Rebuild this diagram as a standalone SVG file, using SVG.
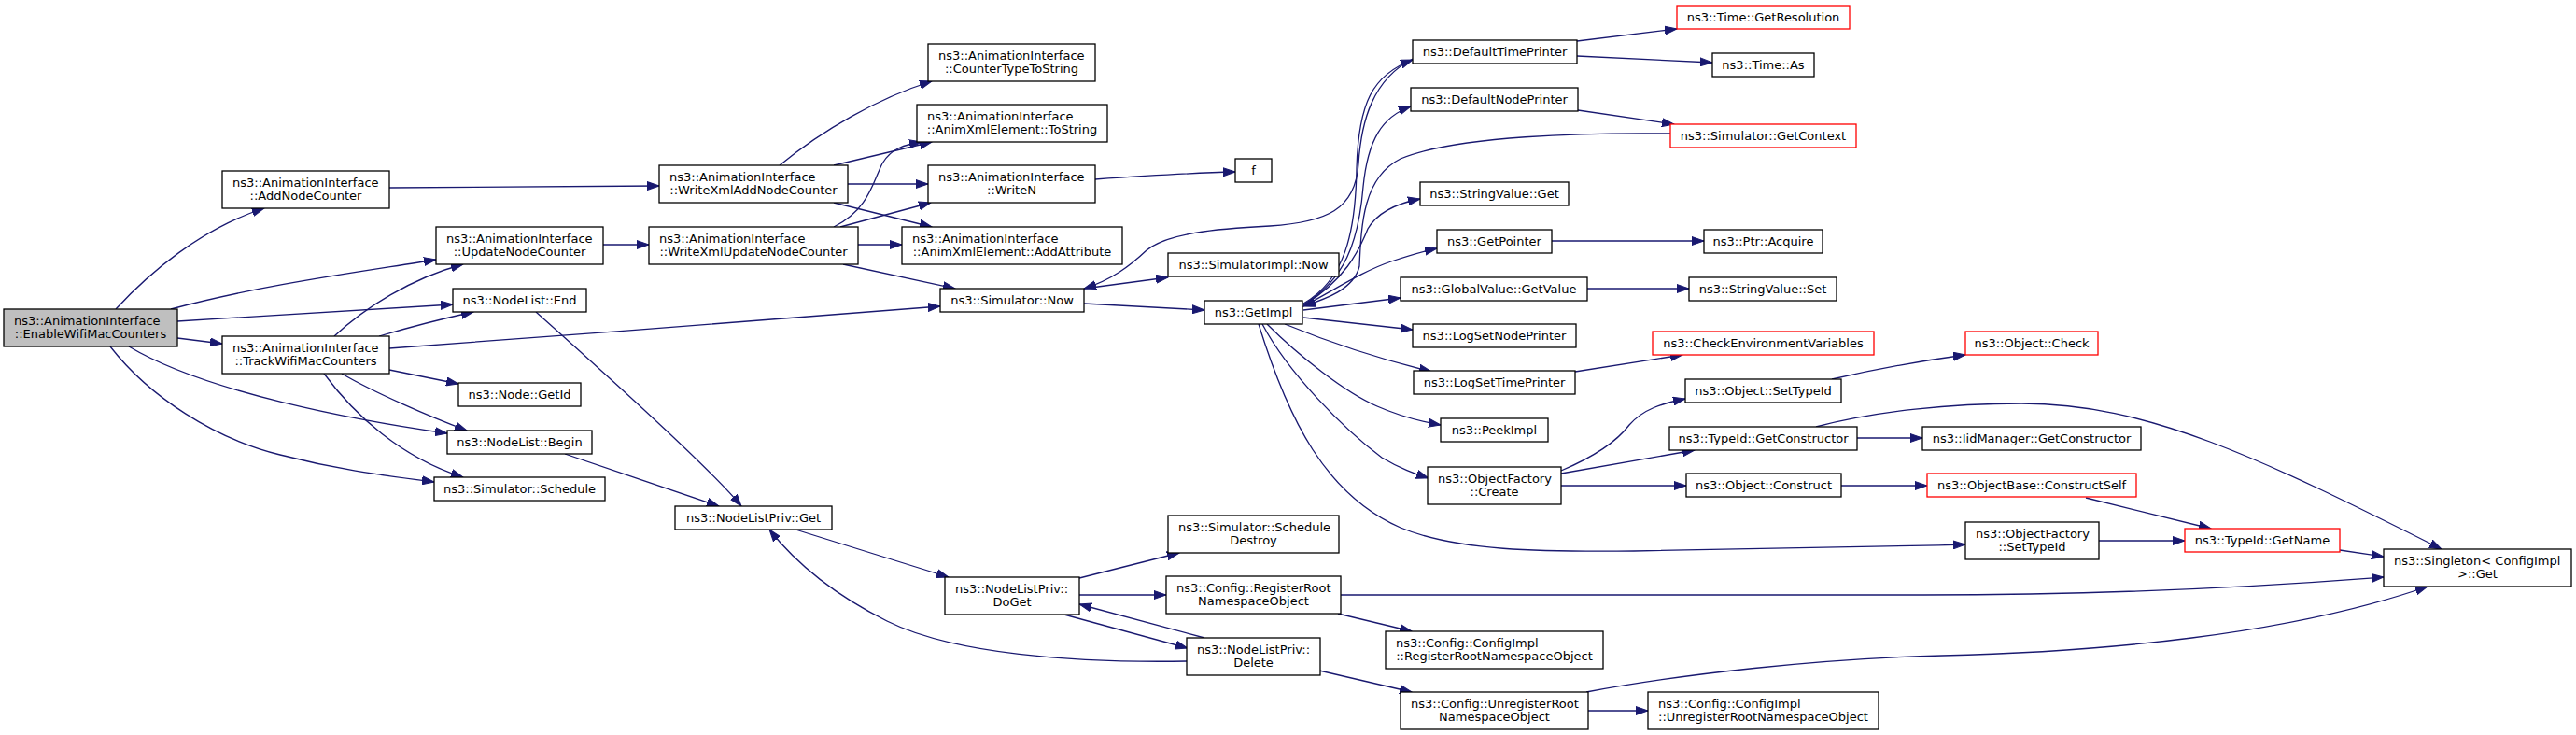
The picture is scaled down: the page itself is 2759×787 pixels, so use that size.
<svg xmlns="http://www.w3.org/2000/svg" width="2759" height="787" viewBox="0 0 2759 787">
<style>
.n rect{fill:#fff;stroke:#000;stroke-width:1.3}
.n.r rect{stroke:#f00}
.n.root rect{fill:#bfbfbf}
text{font-family:"DejaVu Sans","Liberation Sans",sans-serif;font-size:13px;fill:#000}
.c{text-anchor:middle}
.e path{fill:none;stroke:#191970;stroke-width:1.3;marker-end:url(#ah)}
</style>
<defs>
<marker id="ah" markerWidth="14" markerHeight="10" refX="13" refY="5" orient="auto" markerUnits="userSpaceOnUse">
<path d="M0,0.5 L13,5 L0,9.5 z" fill="#191970" stroke="#191970" stroke-width="1"/>
</marker>
</defs>
<rect width="2759" height="787" fill="#fff"/>
<g id="edges" class="e">
<path d="M124,331 C160,292 215,245 283,223"/>
<path d="M183,331 C280,305 380,292 467,278"/>
<path d="M190,344 C300,337 400,331 485,326"/>
<path d="M190,362 L238,368"/>
<path d="M138,371 C220,420 380,450 479,464"/>
<path d="M118,371 C160,425 230,470 300,487 C370,505 420,510 465,516"/>
<path d="M417,201 L706,199"/>
<path d="M646,262 L695,262"/>
<path d="M358,360 C390,330 440,298 496,283"/>
<path d="M406,360 C440,350 475,341 507,334"/>
<path d="M417,373 C600,360 850,340 1007,328"/>
<path d="M417,396 L491,411"/>
<path d="M366,400 C400,420 460,446 500,461"/>
<path d="M347,400 C380,445 430,490 496,511"/>
<path d="M574,334 C620,375 760,500 794,542"/>
<path d="M605,486 L770,542"/>
<path d="M835,177 C880,140 940,105 998,87"/>
<path d="M893,177 L998,152"/>
<path d="M908,197 L994,197"/>
<path d="M893,217 L998,243"/>
<path d="M893,243 C930,225 935,195 945,175 C955,158 970,155 987,152"/>
<path d="M900,243 L997,217"/>
<path d="M919,262 L966,262"/>
<path d="M903,283 L1023,309"/>
<path d="M1173,192 C1230,188 1280,185 1323,184"/>
<path d="M1161,309 L1251,297"/>
<path d="M1161,325 L1290,332"/>
<path d="M1513,63 C1470,85 1458,130 1455,175 C1452,225 1420,238 1360,242 C1300,245 1250,250 1228,268 C1210,285 1190,300 1161,309"/>
<path d="M1396,325 C1440,300 1452,250 1453,180 C1455,110 1470,80 1513,64"/>
<path d="M1396,326 C1440,300 1455,260 1460,200 C1465,150 1480,125 1511,114"/>
<path d="M1396,327 C1440,300 1455,270 1465,245 C1475,228 1495,218 1521,213"/>
<path d="M1396,328 C1430,310 1460,290 1490,280 C1505,275 1520,270 1539,266"/>
<path d="M1396,332 L1500,319"/>
<path d="M1396,340 L1513,353"/>
<path d="M1376,347 C1420,365 1480,385 1533,398"/>
<path d="M1357,347 C1390,380 1440,420 1475,435 C1500,446 1520,451 1543,455"/>
<path d="M1352,347 C1380,400 1440,460 1480,490 C1500,502 1515,507 1530,512"/>
<path d="M1348,347 C1380,450 1420,530 1500,565 C1560,590 1650,591 1750,590 C1900,588 2000,586 2105,583"/>
<path d="M1789,143 C1700,142 1560,145 1500,170 C1460,190 1458,240 1456,285 C1450,310 1420,320 1396,328"/>
<path d="M1689,44 L1796,31"/>
<path d="M1689,60 L1834,67"/>
<path d="M1690,118 L1793,133"/>
<path d="M1662,258 L1825,258"/>
<path d="M1700,309 L1809,309"/>
<path d="M1687,398 L1802,380"/>
<path d="M1962,406 C2010,395 2060,386 2105,380"/>
<path d="M1672,504 C1705,490 1730,475 1745,455 C1760,438 1780,432 1805,427"/>
<path d="M1672,507 L1815,482"/>
<path d="M1672,520 L1806,520"/>
<path d="M1989,469 L2059,469"/>
<path d="M1972,520 L2064,520"/>
<path d="M1945,457 C2010,440 2090,432 2165,432 C2300,432 2420,490 2615,588"/>
<path d="M2234,533 L2368,566"/>
<path d="M2248,579 L2340,579"/>
<path d="M2506,589 L2553,596"/>
<path d="M1436,637 L2060,637 C2250,637 2400,630 2553,618"/>
<path d="M1699,741 C1800,722 1950,705 2080,702 C2250,698 2450,680 2600,628"/>
<path d="M1701,761 L1765,761"/>
<path d="M1433,657 L1512,676"/>
<path d="M1413,718 L1512,741"/>
<path d="M852,567 L1016,618"/>
<path d="M1156,619 L1263,592"/>
<path d="M1156,637 L1249,637"/>
<path d="M1136,657 L1272,694"/>
<path d="M1290,683 L1156,647"/>
<path d="M1271,708 C1150,710 1020,700 950,665 C890,635 850,600 824,567"/>
</g>
<g id="n_enable" class="n root"><rect x="4" y="331" width="186" height="40"/><text x="15" y="347.5">ns3::AnimationInterface</text><text class="c" x="97" y="361.5">::EnableWifiMacCounters</text></g>
<g id="n_addnodecounter" class="n"><rect x="238" y="183" width="179" height="40"/><text x="249" y="199.5">ns3::AnimationInterface</text><text class="c" x="327.5" y="213.5">::AddNodeCounter</text></g>
<g id="n_updatenodecounter" class="n"><rect x="467" y="243" width="179" height="40"/><text x="478" y="259.5">ns3::AnimationInterface</text><text class="c" x="556.5" y="273.5">::UpdateNodeCounter</text></g>
<g id="n_nodelist_end" class="n"><rect x="485" y="309" width="143" height="25"/><text class="c" x="556.5" y="326">ns3::NodeList::End</text></g>
<g id="n_trackwifi" class="n"><rect x="238" y="360" width="179" height="40"/><text x="249" y="376.5">ns3::AnimationInterface</text><text class="c" x="327.5" y="390.5">::TrackWifiMacCounters</text></g>
<g id="n_node_getid" class="n"><rect x="491" y="410" width="131" height="25"/><text class="c" x="556.5" y="427">ns3::Node::GetId</text></g>
<g id="n_nodelist_begin" class="n"><rect x="479" y="461" width="155" height="25"/><text class="c" x="556.5" y="478">ns3::NodeList::Begin</text></g>
<g id="n_sim_schedule" class="n"><rect x="465" y="511" width="183" height="25"/><text class="c" x="556.5" y="528">ns3::Simulator::Schedule</text></g>
<g id="n_writexmladd" class="n"><rect x="706" y="177" width="202" height="40"/><text x="717" y="193.5">ns3::AnimationInterface</text><text class="c" x="807" y="207.5">::WriteXmlAddNodeCounter</text></g>
<g id="n_writexmlupdate" class="n"><rect x="695" y="243" width="224" height="40"/><text x="706" y="259.5">ns3::AnimationInterface</text><text class="c" x="807" y="273.5">::WriteXmlUpdateNodeCounter</text></g>
<g id="n_countertype" class="n"><rect x="994" y="47" width="179" height="40"/><text x="1005" y="63.5">ns3::AnimationInterface</text><text class="c" x="1083.5" y="77.5">::CounterTypeToString</text></g>
<g id="n_tostring" class="n"><rect x="982" y="112" width="204" height="40"/><text x="993" y="128.5">ns3::AnimationInterface</text><text class="c" x="1084" y="142.5">::AnimXmlElement::ToString</text></g>
<g id="n_writen" class="n"><rect x="994" y="177" width="179" height="40"/><text x="1005" y="193.5">ns3::AnimationInterface</text><text class="c" x="1083.5" y="207.5">::WriteN</text></g>
<g id="n_addattribute" class="n"><rect x="966" y="243" width="236" height="40"/><text x="977" y="259.5">ns3::AnimationInterface</text><text class="c" x="1084" y="273.5">::AnimXmlElement::AddAttribute</text></g>
<g id="n_f" class="n"><rect x="1323" y="170" width="39" height="25"/><text class="c" x="1342.5" y="187">f</text></g>
<g id="n_sim_now" class="n"><rect x="1007" y="309" width="154" height="25"/><text class="c" x="1084" y="326">ns3::Simulator::Now</text></g>
<g id="n_simimpl_now" class="n"><rect x="1251" y="271" width="183" height="25"/><text class="c" x="1342.5" y="288">ns3::SimulatorImpl::Now</text></g>
<g id="n_getimpl" class="n"><rect x="1290" y="322" width="105" height="25"/><text class="c" x="1342.5" y="339">ns3::GetImpl</text></g>
<g id="n_nlp_get" class="n"><rect x="723" y="542" width="168" height="25"/><text class="c" x="807" y="559">ns3::NodeListPriv::Get</text></g>
<g id="n_nlp_doget" class="n"><rect x="1012" y="618" width="144" height="40"/><text x="1023" y="634.5">ns3::NodeListPriv::</text><text class="c" x="1084" y="648.5">DoGet</text></g>
<g id="n_scheduledestroy" class="n"><rect x="1251" y="552" width="183" height="40"/><text x="1262" y="568.5">ns3::Simulator::Schedule</text><text class="c" x="1342.5" y="582.5">Destroy</text></g>
<g id="n_cfg_register" class="n"><rect x="1249" y="617" width="187" height="40"/><text x="1260" y="633.5">ns3::Config::RegisterRoot</text><text class="c" x="1342.5" y="647.5">NamespaceObject</text></g>
<g id="n_nlp_delete" class="n"><rect x="1271" y="683" width="143" height="40"/><text x="1282" y="699.5">ns3::NodeListPriv::</text><text class="c" x="1342.5" y="713.5">Delete</text></g>
<g id="n_deftimeprinter" class="n"><rect x="1513" y="43" width="176" height="25"/><text class="c" x="1601" y="60">ns3::DefaultTimePrinter</text></g>
<g id="n_defnodeprinter" class="n"><rect x="1511" y="94" width="179" height="25"/><text class="c" x="1600.5" y="111">ns3::DefaultNodePrinter</text></g>
<g id="n_sv_get" class="n"><rect x="1521" y="195" width="159" height="25"/><text class="c" x="1600.5" y="212">ns3::StringValue::Get</text></g>
<g id="n_getpointer" class="n"><rect x="1539" y="246" width="123" height="25"/><text class="c" x="1600.5" y="263">ns3::GetPointer</text></g>
<g id="n_gv_getvalue" class="n"><rect x="1500" y="297" width="200" height="25"/><text class="c" x="1600" y="314">ns3::GlobalValue::GetValue</text></g>
<g id="n_logsetnode" class="n"><rect x="1513" y="347" width="175" height="25"/><text class="c" x="1600.5" y="364">ns3::LogSetNodePrinter</text></g>
<g id="n_logsettime" class="n"><rect x="1514" y="397" width="173" height="25"/><text class="c" x="1600.5" y="414">ns3::LogSetTimePrinter</text></g>
<g id="n_peekimpl" class="n"><rect x="1543" y="448" width="115" height="25"/><text class="c" x="1600.5" y="465">ns3::PeekImpl</text></g>
<g id="n_of_create" class="n"><rect x="1529" y="500" width="143" height="40"/><text x="1540" y="516.5">ns3::ObjectFactory</text><text class="c" x="1600.5" y="530.5">::Create</text></g>
<g id="n_cfgimpl_register" class="n"><rect x="1484" y="676" width="233" height="40"/><text x="1495" y="692.5">ns3::Config::ConfigImpl</text><text class="c" x="1600.5" y="706.5">::RegisterRootNamespaceObject</text></g>
<g id="n_cfg_unregister" class="n"><rect x="1500" y="741" width="201" height="40"/><text x="1511" y="757.5">ns3::Config::UnregisterRoot</text><text class="c" x="1600.5" y="771.5">NamespaceObject</text></g>
<g id="n_getresolution" class="n r"><rect x="1796" y="6" width="185" height="25"/><text class="c" x="1888.5" y="23">ns3::Time::GetResolution</text></g>
<g id="n_time_as" class="n"><rect x="1834" y="57" width="109" height="25"/><text class="c" x="1888.5" y="74">ns3::Time::As</text></g>
<g id="n_getcontext" class="n r"><rect x="1789" y="133" width="199" height="25"/><text class="c" x="1888.5" y="150">ns3::Simulator::GetContext</text></g>
<g id="n_acquire" class="n"><rect x="1825" y="246" width="127" height="25"/><text class="c" x="1888.5" y="263">ns3::Ptr::Acquire</text></g>
<g id="n_sv_set" class="n"><rect x="1809" y="297" width="158" height="25"/><text class="c" x="1888" y="314">ns3::StringValue::Set</text></g>
<g id="n_checkenv" class="n r"><rect x="1770" y="355" width="237" height="25"/><text class="c" x="1888.5" y="372">ns3::CheckEnvironmentVariables</text></g>
<g id="n_obj_settypeid" class="n"><rect x="1805" y="406" width="167" height="25"/><text class="c" x="1888.5" y="423">ns3::Object::SetTypeId</text></g>
<g id="n_tid_getctor" class="n"><rect x="1788" y="457" width="201" height="25"/><text class="c" x="1888.5" y="474">ns3::TypeId::GetConstructor</text></g>
<g id="n_obj_construct" class="n"><rect x="1806" y="507" width="166" height="25"/><text class="c" x="1889" y="524">ns3::Object::Construct</text></g>
<g id="n_cfgimpl_unregister" class="n"><rect x="1765" y="741" width="247" height="40"/><text x="1776" y="757.5">ns3::Config::ConfigImpl</text><text class="c" x="1888.5" y="771.5">::UnregisterRootNamespaceObject</text></g>
<g id="n_obj_check" class="n r"><rect x="2105" y="355" width="142" height="25"/><text class="c" x="2176" y="372">ns3::Object::Check</text></g>
<g id="n_iid_getctor" class="n"><rect x="2059" y="457" width="234" height="25"/><text class="c" x="2176" y="474">ns3::IidManager::GetConstructor</text></g>
<g id="n_constructself" class="n r"><rect x="2064" y="507" width="224" height="25"/><text class="c" x="2176" y="524">ns3::ObjectBase::ConstructSelf</text></g>
<g id="n_of_settypeid" class="n"><rect x="2105" y="559" width="143" height="40"/><text x="2116" y="575.5">ns3::ObjectFactory</text><text class="c" x="2176.5" y="589.5">::SetTypeId</text></g>
<g id="n_tid_getname" class="n r"><rect x="2340" y="566" width="166" height="25"/><text class="c" x="2423" y="583">ns3::TypeId::GetName</text></g>
<g id="n_singleton_get" class="n"><rect x="2553" y="588" width="201" height="40"/><text x="2564" y="604.5">ns3::Singleton&lt; ConfigImpl</text><text class="c" x="2653.5" y="618.5">&gt;::Get</text></g>
</svg>
